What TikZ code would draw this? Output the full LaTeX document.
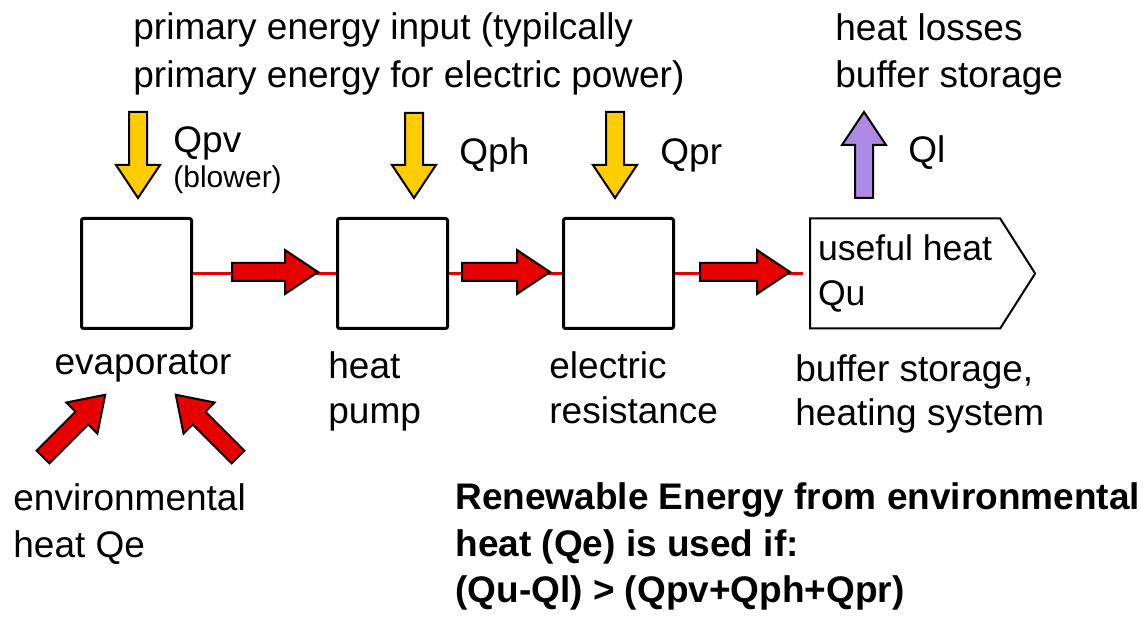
\documentclass[tikz,border=0pt]{standalone}
\usepackage{fontspec}
\setmainfont{Liberation Sans}
\usetikzlibrary{positioning,calc}
\definecolor{hpRed}{HTML}{E60000}
\definecolor{hpYellow}{HTML}{FFCC00}
\definecolor{hpViolet}{HTML}{AD8AE6}
% block arrow: style, tail point, angle, length
\newcommand{\fatarrow}[4]{%
  \begin{scope}[shift={(#2)},rotate=#3]
    \draw[fatarrow,#1] (0,-9) -- ({#4-33},-9) -- ({#4-33},-22) -- (#4,0)
      -- ({#4-33},22) -- ({#4-33},9) -- (0,9) -- cycle;
  \end{scope}}
\tikzset{
  unit/.style={draw=black,line width=1.5pt,rounded corners=1pt,
    minimum size=55pt,inner sep=0pt},
  lbl/.style={font=\fontsize{18.5pt}{23pt}\selectfont,inner sep=0pt,
    align=left,anchor=base west},
  flow/.style={draw=hpRed,line width=1.4pt},
  fatarrow/.style={draw=black,line width=1pt,line join=miter}
}

\begin{document}
\begin{tikzpicture}[x=0.5pt,y=-0.5pt]
  \useasboundingbox (0,0) rectangle (1148,619);
  \node[unit] (evap) at (136.5,273.5) {};
  \node[unit, right=71.5pt of evap] (pump) {};
  \node[unit, right=56.5pt of pump] (elec) {};
  \node[right=67.5pt of elec, minimum width=95pt, minimum height=55pt,
    inner xsep=4pt, inner ysep=0pt, outer sep=0pt, align=left,
    font=\fontsize{17.8pt}{22.5pt}\selectfont] (useful) {useful heat\\Qu};
  \draw[line width=1pt] (useful.north west) -- (useful.north east)
    -- ($(useful.east)+(35,0)$) -- (useful.south east) -- (useful.south west) -- cycle;

  \draw[flow] (evap) -- (pump);
  \draw[flow] (pump) -- (elec);
  \draw[flow, shorten >=3.5pt] (elec) -- (useful);

  % heat flow arrows
  \fatarrow{fill=hpRed}{232,272}{0}{86}
  \fatarrow{fill=hpRed}{462,272}{0}{88}
  \fatarrow{fill=hpRed}{700,272}{0}{90}
  \fatarrow{fill=hpYellow}{138,112}{-90}{86}
  \fatarrow{fill=hpYellow}{414,113}{-90}{85}
  \fatarrow{fill=hpYellow}{615,112}{-90}{86}
  \fatarrow{fill=hpViolet}{864,198}{90}{86}
  \fatarrow{fill=hpRed}{43,457}{45}{88}
  \fatarrow{fill=hpRed}{238,457}{135}{88}

  % labels (multi-line ones sit on their last baseline)
  \node[lbl, font=\fontsize{18.5pt}{24pt}\selectfont] (primary) at (133,88)
    {primary energy input (typilcally\\primary energy for electric power)};
  \node[lbl] (qpv) at (173,153) {Qpv};
  \node[lbl, font=\fontsize{15pt}{18pt}\selectfont] (blower) at (173,188) {(blower)};
  \node[lbl] (qph) at (459,165) {Qph};
  \node[lbl] (qpr) at (660,165) {Qpr};
  \node[lbl] (ql) at (908,163) {Ql};
  \node[lbl, font=\fontsize{18.5pt}{23.5pt}\selectfont] (losses) at (835,88)
    {heat losses\\buffer storage};
  \node[lbl, anchor=base] (evaptext) at (143,375) {evaporator};
  \node[lbl, font=\fontsize{18.5pt}{22.5pt}\selectfont] (pumptext) at (328,424) {heat\\pump};
  \node[lbl, font=\fontsize{18.5pt}{22.5pt}\selectfont] (electext) at (549,424) {electric\\resistance};
  \node[lbl, font=\fontsize{18.5pt}{22pt}\selectfont] (storetext) at (795,426)
    {buffer storage,\\heating system};
  \node[lbl, font=\fontsize{18.5pt}{23.5pt}\selectfont] (envtext) at (13,558)
    {environmental\\heat Qe};
  \node[lbl, font=\bfseries\fontsize{18.5pt}{23.25pt}\selectfont] (rule) at (455,603)
    {Renewable Energy from environmental\\heat (Qe) is used if:\\(Qu-Ql) > (Qpv+Qph+Qpr)};
\end{tikzpicture}
\end{document}
